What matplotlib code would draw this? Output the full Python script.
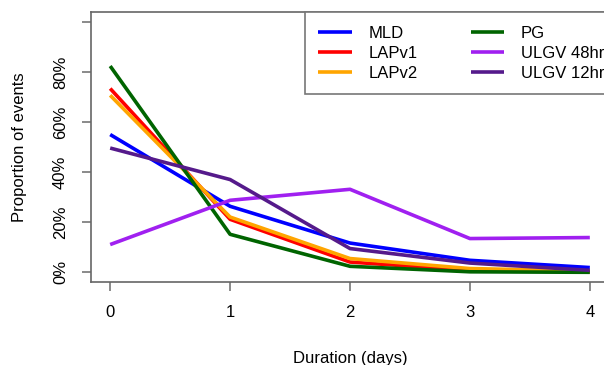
import numpy as np
import matplotlib.pyplot as plt

plt.rcParams['font.family'] = ['Liberation Sans', 'DejaVu Sans']
plt.rcParams['font.size'] = 12

# durations (days) and proportion of events per method
days = [0, 1, 2, 3, 4]
mld = [0.551, 0.264, 0.117, 0.048, 0.019]
lapv1 = [0.735, 0.212, 0.041, 0.008, 0.002]
lapv2 = [0.708, 0.221, 0.055, 0.015, 0.005]
pg = [0.825, 0.152, 0.024, 0.002, 0.000]
ulgv48 = [0.111, 0.288, 0.332, 0.135, 0.139]
ulgv12 = [0.497, 0.371, 0.095, 0.037, 0.008]

series = [("MLD", mld, "#0000FF"),
          ("LAPv1", lapv1, "#FF0000"),
          ("LAPv2", lapv2, "#FFA500"),
          ("PG", pg, "#006400"),
          ("ULGV 48hr", ulgv48, "#A020F0"),
          ("ULGV 12hr", ulgv12, "#551A8B")]

yticks = [0, 0.2, 0.4, 0.6, 0.8, 1.0]
ylabels = ["0%", "20%", "40%", "60%", "80%", ""]

fig = plt.figure(figsize=(6.04, 3.65), dpi=100)
ax = fig.add_axes([91 / 604, 82.7 / 365, 518 / 604, 270 / 365])

for name, vals, col in series:
    ax.plot(days, vals, color=col, lw=2.6, label=name, solid_capstyle='butt')

ax.set_xlim(-0.16, 4.16)
ax.set_ylim(-0.04, 1.04)
ax.set_xticks(days)
ax.set_yticks(yticks)
ax.set_yticklabels(ylabels, rotation=90, va='center')

for sp in ax.spines.values():
    sp.set_color('#666666')
    sp.set_linewidth(1.2)
ax.tick_params(axis='both', length=6.5, width=1.2, color='#777777', pad=10)

ax.set_xlabel("Duration (days)", labelpad=22)
ax.set_ylabel("Proportion of events", labelpad=19)

# two-column legend, right side runs off the figure like the original
leg = ax.legend(ncol=2, loc='upper left', bbox_to_anchor=(305 / 604, 352.7 / 365),
                bbox_transform=fig.transFigure, fancybox=False, framealpha=1,
                edgecolor='#777777', handlelength=2.0, handletextpad=1.0,
                columnspacing=3.2, labelspacing=0.3, borderpad=0.8,
                borderaxespad=0)
leg.get_frame().set_linewidth(1.2)

fig.savefig("out.png", dpi=100)
